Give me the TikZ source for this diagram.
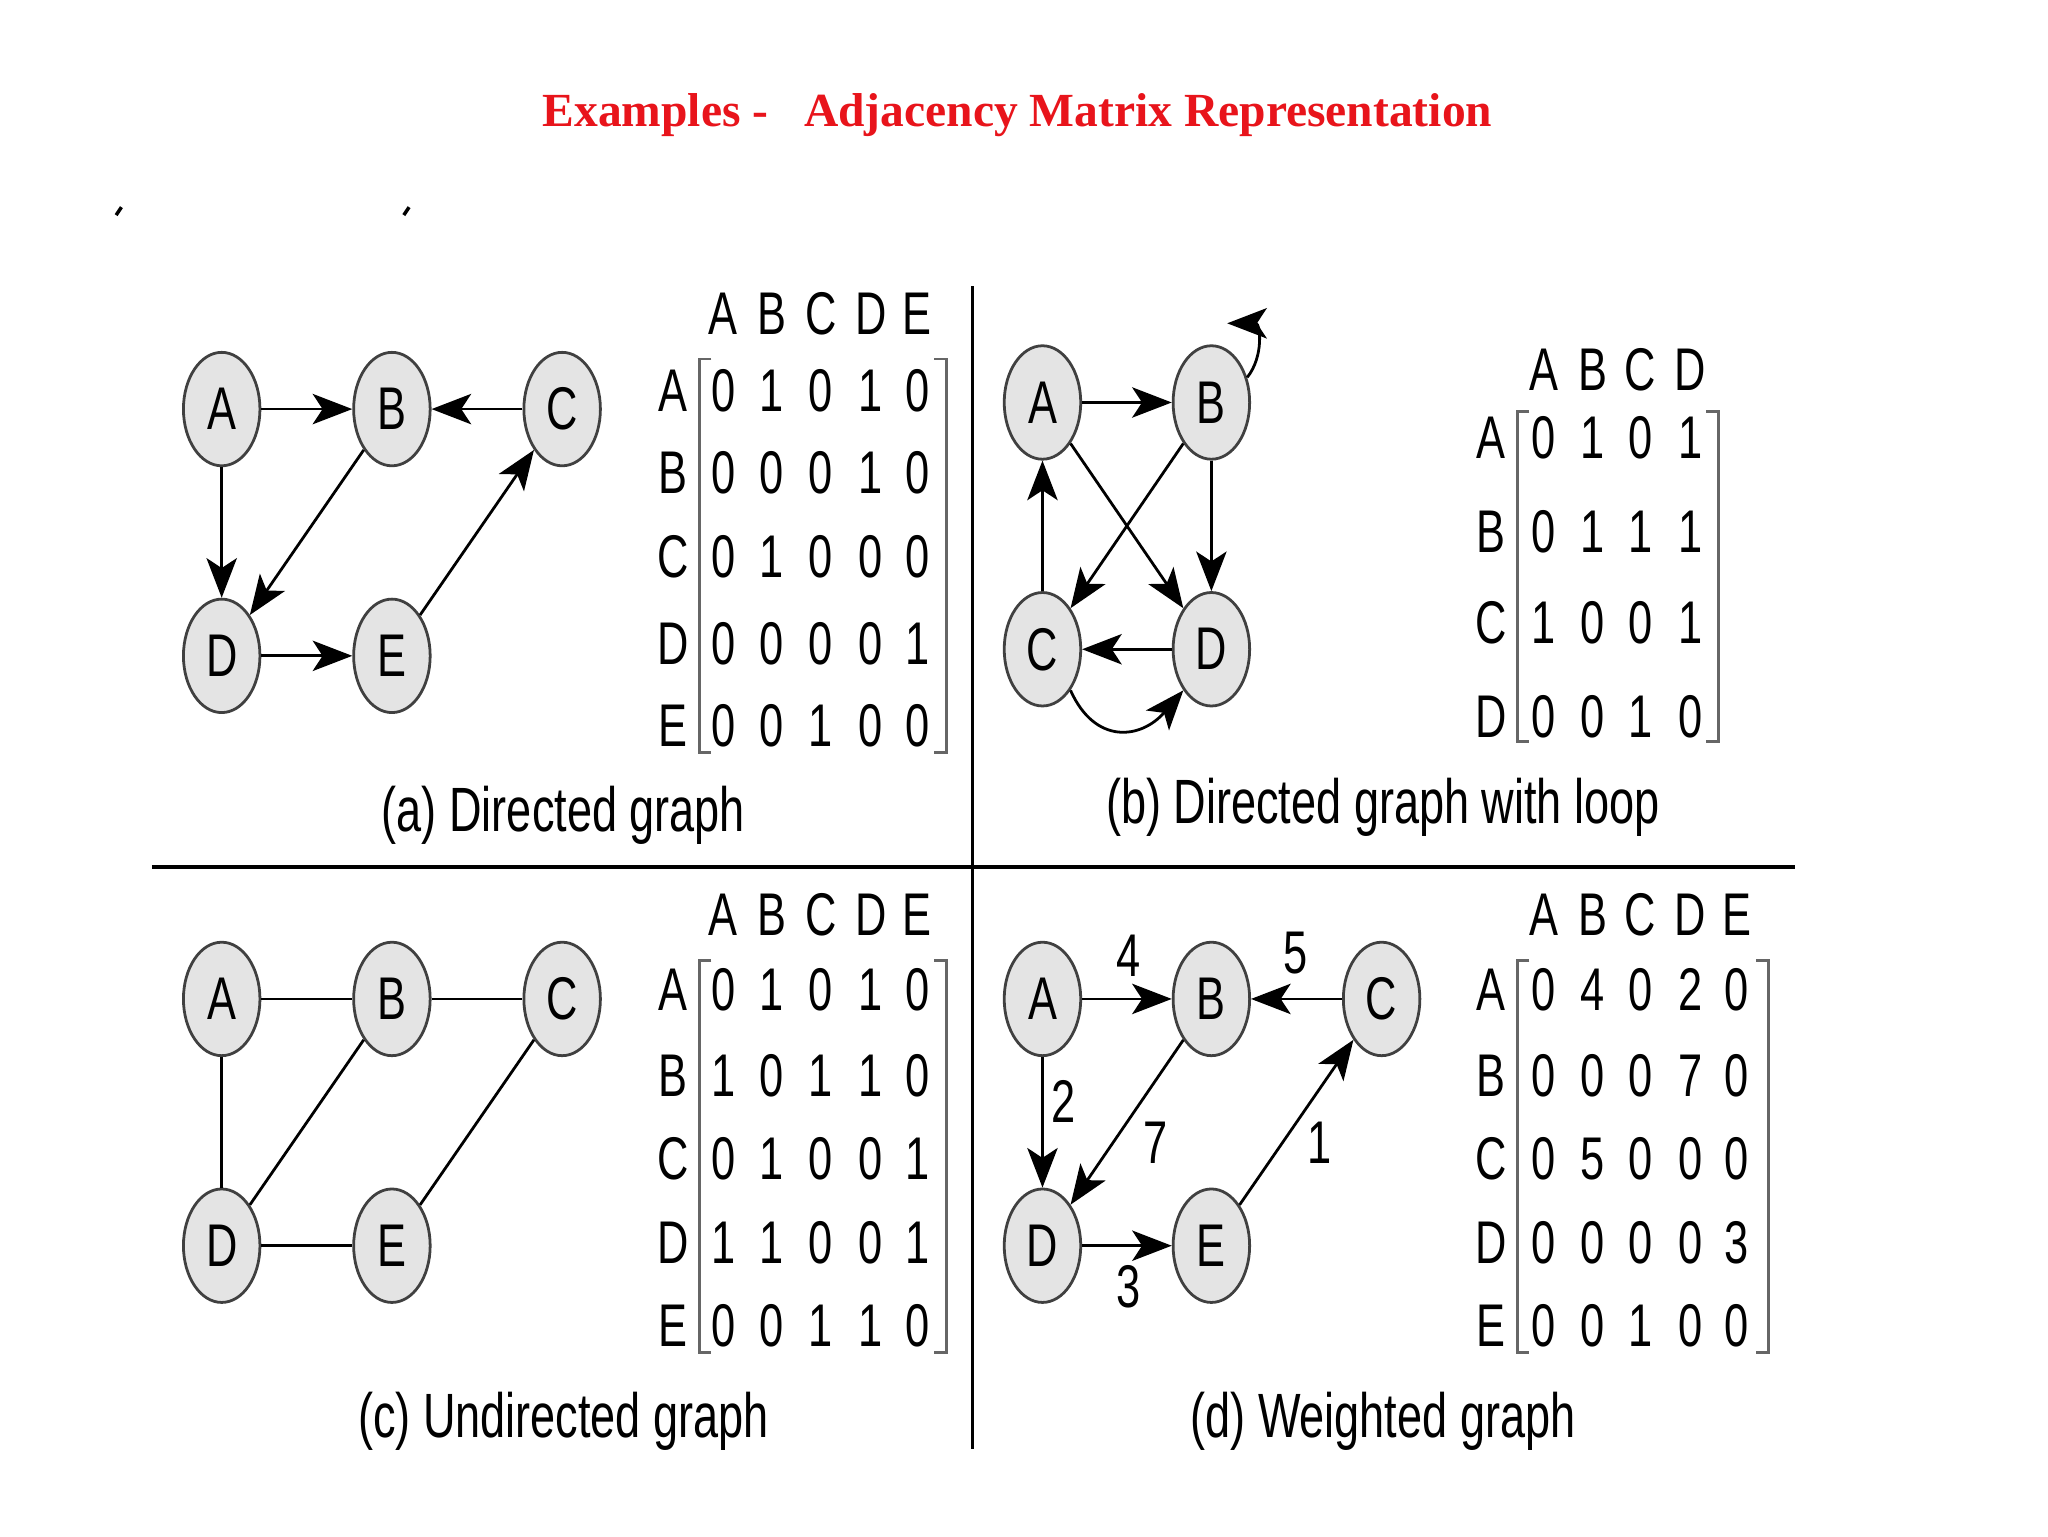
\documentclass[tikz,border=0pt]{standalone}
\usepackage{fontspec}
\setmainfont{Liberation Serif}
\newfontfamily\gsans{Liberation Sans}
\usetikzlibrary{shapes.geometric,arrows.meta}
\newcommand\nt[1]{\scalebox{0.72}[1]{#1}}
\newcommand\letterof[1]{\ifcase#1\or A\or B\or C\or D\or E\fi}
\definecolor{nodefill}{HTML}{E4E4E4}
\definecolor{titlered}{HTML}{E8141B}
\tikzset{
  gnode/.style={ellipse,draw=black!75,line width=1.2pt,fill=nodefill,minimum width=1.16cm,minimum height=1.72cm,inner sep=0pt,font=\gsans\fontsize{26}{26}\selectfont},
  arr/.style={line width=1.2pt,-{Stealth[length=0.6cm,width=0.46cm,inset=0.15cm]}},
  ln/.style={line width=1.2pt},
  lab/.style={font=\gsans\fontsize{26}{26}\selectfont,inner sep=0pt},
  captxt/.style={font=\gsans\fontsize{27}{27}\selectfont,inner sep=0pt},
  brk/.style={draw=black!60,line width=1.2pt},
  sep/.style={line width=1.6pt}
}
\begin{document}
\begin{tikzpicture}[x=0.02cm,y=-0.02cm]
\useasboundingbox (0,0) rectangle (1552,1164);
\node[font=\bfseries\fontsize{20.5}{20.5}\selectfont,text=titlered] (title) at (771,87) {Examples -\ \ \ Adjacency Matrix Representation};
\draw[line width=1.5pt] (88,163) -- (92,157);
\draw[line width=1.5pt] (306,163) -- (310,157);
\coordinate (v1) at (737,217); \coordinate (v2) at (737,1098);
\coordinate (h1) at (115,657); \coordinate (h2) at (1360,657);
\draw[sep] (v1) -- (v2);
\draw[sep] (h1) -- (h2);

% (a)
\node[gnode] (aA) at (168,310) {\nt{A}};
\node[gnode] (aB) at (297,310) {\nt{B}};
\node[gnode] (aC) at (426,310) {\nt{C}};
\node[gnode] (aD) at (168,497) {\nt{D}};
\node[gnode] (aE) at (297,497) {\nt{E}};
\draw[arr] (aA) -- (aB);
\draw[arr] (aC) -- (aB);
\draw[arr] (aA) -- (aD);
\draw[arr] (aB) -- (aD);
\draw[arr] (aD) -- (aE);
\draw[arr] (aE) -- (aC);
\node[captxt] (capa) at (427,618) {\nt{(a) Directed graph}};

% (b)
\node[gnode] (bA) at (790,305) {\nt{A}};
\node[gnode] (bB) at (918,305) {\nt{B}};
\node[gnode] (bC) at (790,492) {\nt{C}};
\node[gnode] (bD) at (918,492) {\nt{D}};
\draw[arr] (bA) -- (bB);
\draw[arr] (bA) -- (bD);
\draw[arr] (bB) -- (bC);
\draw[arr] (bB) -- (bD);
\draw[arr] (bC) -- (bA);
\draw[arr] (bD) -- (bC);
\draw[arr] (bC.south east) .. controls (830,565) and (865,560) .. (bD.south west);
\draw[arr] (bB.35) .. controls (958,270) and (955,245) .. (930,245);
\node[captxt] (capb) at (1048,612) {\nt{(b) Directed graph with loop}};

% (c)
\node[gnode] (cA) at (168,757) {\nt{A}};
\node[gnode] (cB) at (297,757) {\nt{B}};
\node[gnode] (cC) at (426,757) {\nt{C}};
\node[gnode] (cD) at (168,944) {\nt{D}};
\node[gnode] (cE) at (297,944) {\nt{E}};
\draw[ln] (cA) -- (cB);
\draw[ln] (cB) -- (cC);
\draw[ln] (cA) -- (cD);
\draw[ln] (cB) -- (cD);
\draw[ln] (cD) -- (cE);
\draw[ln] (cE) -- (cC);
\node[captxt] (capc) at (427,1077) {\nt{(c) Undirected graph}};

% (d)
\node[gnode] (dA) at (790,757) {\nt{A}};
\node[gnode] (dB) at (918,757) {\nt{B}};
\node[gnode] (dC) at (1047,757) {\nt{C}};
\node[gnode] (dD) at (790,944) {\nt{D}};
\node[gnode] (dE) at (918,944) {\nt{E}};
\draw[arr] (dA) -- (dB);
\draw[arr] (dC) -- (dB);
\draw[arr] (dA) -- (dD);
\draw[arr] (dB) -- (dD);
\draw[arr] (dD) -- (dE);
\draw[arr] (dE) -- (dC);
\node[lab] (w4) at (855,724) {\nt{4}};
\node[lab] (w5) at (982,722) {\nt{5}};
\node[lab] (w2) at (806,835) {\nt{2}};
\node[lab] (w7) at (876,866) {\nt{7}};
\node[lab] (w3) at (855,975) {\nt{3}};
\node[lab] (w1) at (1000,866) {\nt{1}};
\node[captxt] (capd) at (1048,1077) {\nt{(d) Weighted graph}};

% matrices
\foreach \pre/\hy/\lx/\xs/\ys/\rows/\bl/\br/\bt/\bb in {
  ma/238/510/{548,585,622,660,695}/{296,358,422,488,550}/{{0,1,0,1,0},{0,0,0,1,0},{0,1,0,0,0},{0,0,0,0,1},{0,0,1,0,0}}/530/717/272/570,
  mb/280/1130/{1170,1207,1243,1281}/{332,403,472,543}/{{0,1,0,1},{0,1,1,1},{1,0,0,1},{0,0,1,0}}/1150/1302/312/562,
  mc/693/510/{548,585,622,660,695}/{750,815,878,942,1005}/{{0,1,0,1,0},{1,0,1,1,0},{0,1,0,0,1},{1,1,0,0,1},{0,0,1,1,0}}/530/717/728/1025,
  md/693/1130/{1170,1207,1243,1281,1316}/{750,815,878,942,1005}/{{0,4,0,2,0},{0,0,0,7,0},{0,5,0,0,0},{0,0,0,0,3},{0,0,1,0,0}}/1150/1340/728/1025}{
  \foreach \x [count=\j] in \xs {
    \node[lab] (\pre-h\j) at (\x,\hy) {\nt{\letterof{\j}}};
  }
  \foreach \y [count=\i] in \ys {
    \node[lab] (\pre-l\i) at (\lx,\y) {\nt{\letterof{\i}}};
    \foreach \x [count=\j] in \xs {
      \pgfmathtruncatemacro\cellval{{\rows}[\i-1][\j-1]}
      \node[lab] (\pre-\i-\j) at (\x,\y) {\nt{\cellval}};
    }
  }
  \draw[brk] (\bl+9,\bt) -- (\bl,\bt) -- (\bl,\bb) -- (\bl+9,\bb);
  \draw[brk] (\br-9,\bt) -- (\br,\bt) -- (\br,\bb) -- (\br-9,\bb);
}
\end{tikzpicture}
\end{document}
